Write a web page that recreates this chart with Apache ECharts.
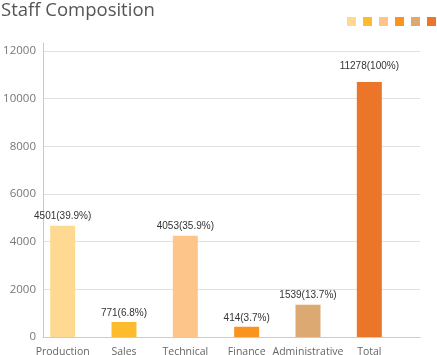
<!DOCTYPE html>
<html>
<head>
<meta charset="utf-8">
<style>
html,body{margin:0;padding:0;background:#fff;}
#chart{width:437px;height:355px;}
</style>
<script src="https://cdn.jsdelivr.net/npm/echarts@6/dist/echarts.min.js"></script>
</head>
<body>
<div id="chart"></div>
<script>
var categories = ['Production', 'Sales', 'Technical', 'Finance', 'Administrative', 'Total'];
var barValues = [4670, 630, 4250, 430, 1355, 10700];
var countLabels = ['4501', '771', '4053', '414', '1539', '11278'];
var percentLabels = ['39.9%', '6.8%', '35.9%', '3.7%', '13.7%', '100%'];
var colors = ['#FED992', '#FEBB2E', '#FEC58B', '#F9951F', '#DCA973', '#EB7629'];
var yTicks = {min: 0, max: 12000, interval: 2000};

var chart = echarts.init(document.getElementById('chart'), null, {renderer: 'canvas'});

var series = categories.map(function (name, i) {
  var data = categories.map(function (c, j) { return j === i ? barValues[i] : '-'; });
  return {
    name: name,
    type: 'bar',
    xAxisIndex: 1,
    yAxisIndex: 1,
    barWidth: 25,
    barGap: '-100%',
    data: data,
    itemStyle: {color: colors[i]},
    label: {
      show: true,
      position: 'top',
      distance: i === 5 ? 11 : 4,
      color: '#333',
      fontSize: 10,
      fontFamily: 'Liberation Sans, Arial, sans-serif',
      formatter: function () { return countLabels[i] + '(' + percentLabels[i] + ')'; }
    }
  };
});

chart.setOption({
  animation: false,
  color: colors,
  title: {
    text: 'Staff Composition',
    left: -4,
    top: -4,
    textStyle: {color: '#555', fontSize: 18.5, fontWeight: 'normal', fontFamily: 'Open Sans, sans-serif'}
  },
  legend: {
    right: -4,
    top: 12,
    itemWidth: 9,
    itemHeight: 9,
    itemGap: 7,
    icon: 'rect',
    data: categories,
    formatter: function () { return ''; },
    selectedMode: false
  },
  grid: [
    {left: 43, right: 17, top: 51, bottom: 18, outerBoundsMode: 'none', containLabel: false},
    {left: 32, right: 37, top: 51, bottom: 18, outerBoundsMode: 'none', containLabel: false},
    {left: 43, right: 17, top: 43, bottom: 18, outerBoundsMode: 'none', containLabel: false}
  ],
  xAxis: [
    {gridIndex: 0, type: 'category', data: categories,
      axisLine: {show: true, lineStyle: {color: '#ccc'}},
      axisTick: {show: false}, axisLabel: {show: false}, splitLine: {show: false}},
    {gridIndex: 1, type: 'category', data: categories,
      axisLine: {show: false}, axisTick: {show: false},
      axisLabel: {interval: 0, color: '#666', fontSize: 10.5, margin: 10, fontFamily: 'Open Sans, sans-serif'}},
    {gridIndex: 2, type: 'category', data: categories, show: false}
  ],
  yAxis: [
    {gridIndex: 0, type: 'value', min: yTicks.min, max: yTicks.max, interval: yTicks.interval,
      axisLine: {show: false}, axisTick: {show: false},
      axisLabel: {color: '#777', fontSize: 11.5, margin: 7, fontFamily: 'Open Sans, sans-serif',
        formatter: function (v) { return String(v); }},
      splitLine: {lineStyle: {color: '#e0e0e0'}}},
    {gridIndex: 1, type: 'value', min: yTicks.min, max: yTicks.max, interval: yTicks.interval, show: false},
    {gridIndex: 2, type: 'value', min: 0, max: 1,
      axisLine: {show: true, lineStyle: {color: '#c8c8c8'}},
      axisTick: {show: false}, axisLabel: {show: false}, splitLine: {show: false}}
  ],
  series: series
});
</script>
</body>
</html>
